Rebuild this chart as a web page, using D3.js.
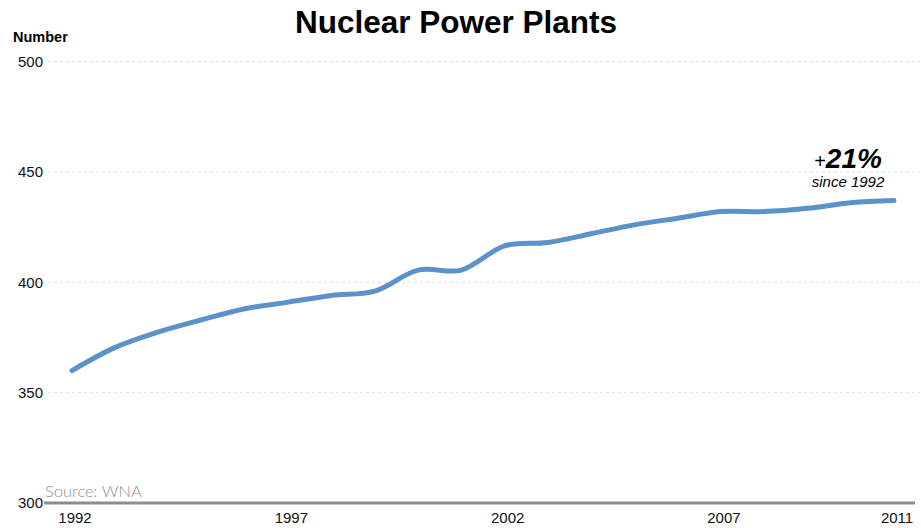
<!DOCTYPE html>
<html>
<head>
<meta charset="utf-8">
<script src="https://cdn.jsdelivr.net/npm/d3@7"></script>
<style>
  html, body { margin: 0; padding: 0; background: #fff; }
  svg { display: block; font-family: "Liberation Sans", Arial, sans-serif; }
</style>
</head>
<body>
<svg id="chart" width="921" height="528"></svg>
<script>
// Nuclear power plants in operation, 1992–2011
const years = [1992, 1993, 1994, 1995, 1996, 1997, 1998, 1999, 2000, 2001,
               2002, 2003, 2004, 2005, 2006, 2007, 2008, 2009, 2010, 2011];
const plants = [360, 370.5, 377.5, 383, 388, 391, 394, 396, 405.5, 405.5,
                416.5, 418, 422, 426, 429, 432, 432, 433.5, 436, 437];
const yTicks = [300, 350, 400, 450, 500];
const xTicks = [1992, 1997, 2002, 2007, 2011];

const svg = d3.select("#chart");

const x = d3.scaleLinear().domain([1992, 2011]).range([72, 894]);
const y = d3.scaleLinear().domain([300, 500]).range([503, 61.5]);

// Title
svg.append("text")
  .attr("x", 456).attr("y", 33)
  .attr("text-anchor", "middle")
  .attr("font-size", 31.5).attr("font-weight", "bold")
  .attr("fill", "#000")
  .text("Nuclear Power Plants");

// Y unit label
svg.append("text")
  .attr("x", 13).attr("y", 42)
  .attr("font-size", 14.5).attr("font-weight", "bold")
  .attr("fill", "#000")
  .text("Number");

// Y tick labels
const yAxis = d3.axisLeft(y).tickValues(yTicks).tickSize(0).tickPadding(0);
const gy = svg.append("g").attr("transform", "translate(43,0)").call(yAxis);
gy.select(".domain").remove();
gy.selectAll("text")
  .attr("font-size", 15).attr("fill", "#111")
  .attr("font-family", "Liberation Sans, Arial, sans-serif");

// Dashed gridlines
svg.append("g").selectAll("line")
  .data(yTicks.filter(d => d > 300))
  .join("line")
  .attr("x1", 48).attr("x2", 920)
  .attr("y1", d => y(d)).attr("y2", d => y(d))
  .attr("stroke", "#dcdcdc").attr("stroke-width", 1)
  .attr("stroke-dasharray", "3,3");

// Baseline
svg.append("line")
  .attr("x1", 44).attr("x2", 915)
  .attr("y1", y(300)).attr("y2", y(300))
  .attr("stroke", "#8c8c8c").attr("stroke-width", 3);

// X axis labels
const xAxis = d3.axisBottom(x).tickValues(xTicks).tickFormat(d3.format("d")).tickSize(0).tickPadding(0);
const gx = svg.append("g").attr("transform", "translate(2.5,512)").call(xAxis);
gx.select(".domain").remove();
gx.selectAll("text")
  .attr("font-size", 15).attr("fill", "#111")
  .attr("font-family", "Liberation Sans, Arial, sans-serif");

// Source note
svg.append("text")
  .attr("x", 45).attr("y", 497)
  .attr("font-size", 16.5).attr("font-weight", 300)
  .attr("font-family", "Lato, 'Open Sans', sans-serif")
  .attr("fill", "#8f8f8f")
  .text("Source: WNA");

// Data line
const line = d3.line()
  .x((d, i) => x(years[i]))
  .y(d => y(d))
  .curve(d3.curveCatmullRom.alpha(0.5));

svg.append("path")
  .datum(plants)
  .attr("d", line)
  .attr("fill", "none")
  .attr("stroke", "#5b92c9")
  .attr("stroke-width", 5)
  .attr("stroke-linecap", "round")
  .attr("stroke-linejoin", "round");

// Change annotation
const first = plants[0], last = plants[plants.length - 1];
const pct = Math.round((last / first - 1) * 100);
const ann = svg.append("text")
  .attr("x", 848).attr("y", 168)
  .attr("text-anchor", "middle")
  .attr("fill", "#000");
ann.append("tspan").attr("font-size", 20).text("+");
ann.append("tspan").attr("font-size", 28).attr("font-weight", "bold").attr("font-style", "italic").text(pct + "%");

svg.append("text")
  .attr("x", 848).attr("y", 187)
  .attr("text-anchor", "middle")
  .attr("font-size", 15).attr("font-style", "italic")
  .attr("fill", "#000")
  .text("since " + years[0]);
</script>
</body>
</html>
